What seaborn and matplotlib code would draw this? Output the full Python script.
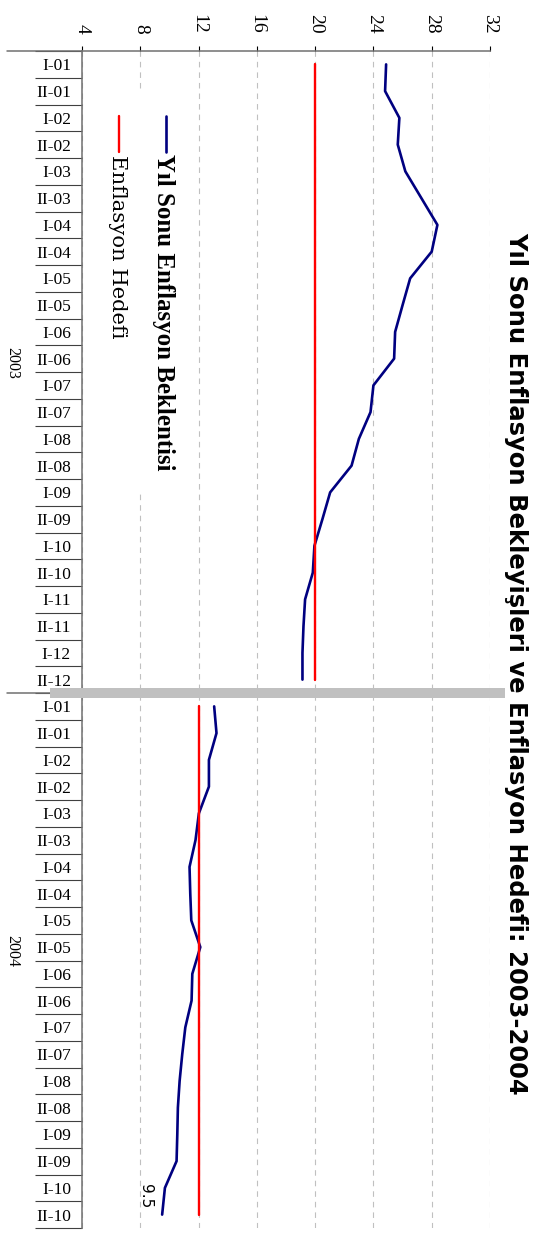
import numpy as np
import pandas as pd
import matplotlib
matplotlib.use("Agg")
import matplotlib.pyplot as plt
from matplotlib.lines import Line2D
from matplotlib.patches import Rectangle
from matplotlib.transforms import blended_transform_factory
import matplotlib.ticker as mticker
import seaborn as sns

# ---- data -----------------------------------------------------------------
years = ["2003", "2004"]
periods_2003 = ["I-01", "II-01", "I-02", "II-02", "I-03", "II-03", "I-04", "II-04",
                "I-05", "II-05", "I-06", "II-06", "I-07", "II-07", "I-08", "II-08",
                "I-09", "II-09", "I-10", "II-10", "I-11", "II-11", "I-12", "II-12"]
periods_2004 = ["I-01", "II-01", "I-02", "II-02", "I-03", "II-03", "I-04", "II-04",
                "I-05", "II-05", "I-06", "II-06", "I-07", "II-07", "I-08", "II-08",
                "I-09", "II-09", "I-10", "II-10"]
expectation_2003 = [24.87, 24.80, 25.78, 25.67, 26.19, 27.29, 28.39, 28.00,
                    26.52, 26.00, 25.49, 25.42, 24.00, 23.80, 23.00, 22.50,
                    21.03, 20.50, 19.95, 19.84, 19.31, 19.20, 19.13, 19.13]
expectation_2004 = [13.07, 13.23, 12.71, 12.71, 12.02, 11.79, 11.38, 11.43,
                    11.50, 12.12, 11.57, 11.52, 11.09, 10.88, 10.70, 10.58,
                    10.54, 10.49, 9.69, 9.50]
target_2003 = 20
target_2004 = 12
value_ticks = [4, 8, 12, 16, 20, 24, 28, 32]
series_names = ["Yıl Sonu Enflasyon Beklentisi", "Enflasyon Hedefi"]
title = "Yıl Sonu Enflasyon Bekleyişleri ve Enflasyon Hedefi: 2003-2004"

NAVY = "#000080"
RED = "#ff0000"

# ---- long-form table --------------------------------------------------------
periods = periods_2003 + periods_2004
n = len(periods)
pos = np.arange(n)
year_of = [years[0]] * len(periods_2003) + [years[1]] * len(periods_2004)
targets = [target_2003] * len(periods_2003) + [target_2004] * len(periods_2004)
df = pd.DataFrame({
    "pos": np.concatenate([pos, pos]),
    "value": expectation_2003 + expectation_2004 + targets,
    "series": [series_names[0]] * n + [series_names[1]] * n,
    "year": year_of * 2,
})

# ---- figure -----------------------------------------------------------------
sns.set_style("white")
plt.rcParams["font.family"] = ["Liberation Serif", "DejaVu Serif"]
plt.rcParams["text.color"] = "black"
plt.rcParams["xtick.labelcolor"] = "black"
plt.rcParams["ytick.labelcolor"] = "black"

W, H, DPI = 537, 1236, 100
fig = plt.figure(figsize=(W / DPI, H / DPI), dpi=DPI)


def fx(px):
    return px / W


def fy(py):
    return 1 - py / H


AX_L, AX_R, AX_T, AX_B = 82, 490, 51, 1228
ax = fig.add_axes([fx(AX_L), fy(AX_B), (AX_R - AX_L) / W, (AX_B - AX_T) / H])

sns.lineplot(data=df[df["series"] == series_names[0]], x="value", y="pos",
             units="year", estimator=None, orient="y", color=NAVY, lw=1.9,
             legend=False, ax=ax, zorder=3)
sns.lineplot(data=df[df["series"] == series_names[1]], x="value", y="pos",
             units="year", estimator=None, orient="y", color=RED, lw=1.7,
             legend=False, ax=ax, zorder=4)

ax.set_xlim(value_ticks[0], value_ticks[-1])
ax.set_ylim(n - 0.5, -0.5)
ax.set_xlabel("")
ax.set_ylabel("")

# value axis along the top
ax.xaxis.tick_top()
ax.set_xticks(value_ticks)
ax.set_xticklabels([str(v) for v in value_ticks])
ax.tick_params(axis="x", which="major", top=True, bottom=False, direction="out",
               length=3.6, width=0.8, color="black", pad=9, labelsize=14,
               labelrotation=-90, labelcolor="black")

# category axis on the left, separators between periods
ax.set_yticks(pos)
ax.set_yticklabels(periods)
ax.yaxis.set_minor_locator(mticker.FixedLocator(np.arange(-0.5, n, 1.0)))
ax.tick_params(axis="y", which="major", left=True, length=0, pad=8, labelsize=12.5,
               labelcolor="black")
ax.tick_params(axis="y", which="minor", left=True, length=33.8, width=0.8,
               color="#404040")

for side in ("right", "bottom"):
    ax.spines[side].set_visible(False)
for side in ("top", "left"):
    ax.spines[side].set_color("#707070")
    ax.spines[side].set_linewidth(1.1)

ax.grid(axis="x", color="#c0c0c0", lw=0.8, linestyle=(0, (5, 4.5)))
ax.grid(axis="y", visible=False)
ax.set_axisbelow(True)

# year grouping: long separators, year labels and the dividing bar
blend = blended_transform_factory(fig.transFigure, ax.transData)
split = len(periods_2003) - 0.5
for yv in (-0.5, split):
    ax.add_line(Line2D([fx(7), fx(AX_L)], [yv, yv], transform=blend,
                       color="#707070", lw=1.1, clip_on=False))
ax.add_patch(Rectangle((fx(50), split - 0.19), fx(505) - fx(50), 0.38,
                       transform=blend, facecolor="#c0c0c0", edgecolor="none",
                       clip_on=False, zorder=6))

group_centers = [(len(periods_2003) - 1) / 2,
                 len(periods_2003) + (len(periods_2004) - 1) / 2]
for yr, c in zip(years, group_centers):
    ax.text(fx(12), c - 0.35, yr, transform=blend, rotation=-90,
            ha="center", va="center", fontsize=11.5)

# end value label
ax.annotate(f"{expectation_2004[-1]:g}", xy=(expectation_2004[-1], pos[-1]),
            xytext=(-17, 19), textcoords="offset pixels", rotation=-90,
            ha="center", va="center", fontsize=11, family="DejaVu Sans")

# legend drawn vertically inside the plot
fig.add_artist(Rectangle((fx(100), fy(494)), fx(192) - fx(100), fy(92) - fy(494),
                         transform=fig.transFigure, facecolor="white",
                         edgecolor="none", zorder=1))
fig.add_artist(Line2D([fx(166), fx(166)], [fy(116), fy(152)], color=NAVY, lw=1.9,
                      transform=fig.transFigure, zorder=2))
fig.text(fx(163), fy(154), series_names[0], rotation=-90, ha="center", va="top",
         fontsize=17.9, fontweight="bold", family="Liberation Serif", zorder=2)
fig.add_artist(Line2D([fx(119), fx(119)], [fy(116), fy(152)], color=RED, lw=1.7,
                      transform=fig.transFigure, zorder=2))
fig.text(fx(117), fy(155), series_names[1], rotation=-90, ha="center", va="top",
         fontsize=15.2, family="DejaVu Serif", zorder=2)

# title along the right edge
fig.text(fx(516), fy(663), title, rotation=-90, ha="center", va="center",
         fontsize=17.5, fontweight="bold", family="DejaVu Sans")

fig.savefig("out.png", dpi=DPI)
